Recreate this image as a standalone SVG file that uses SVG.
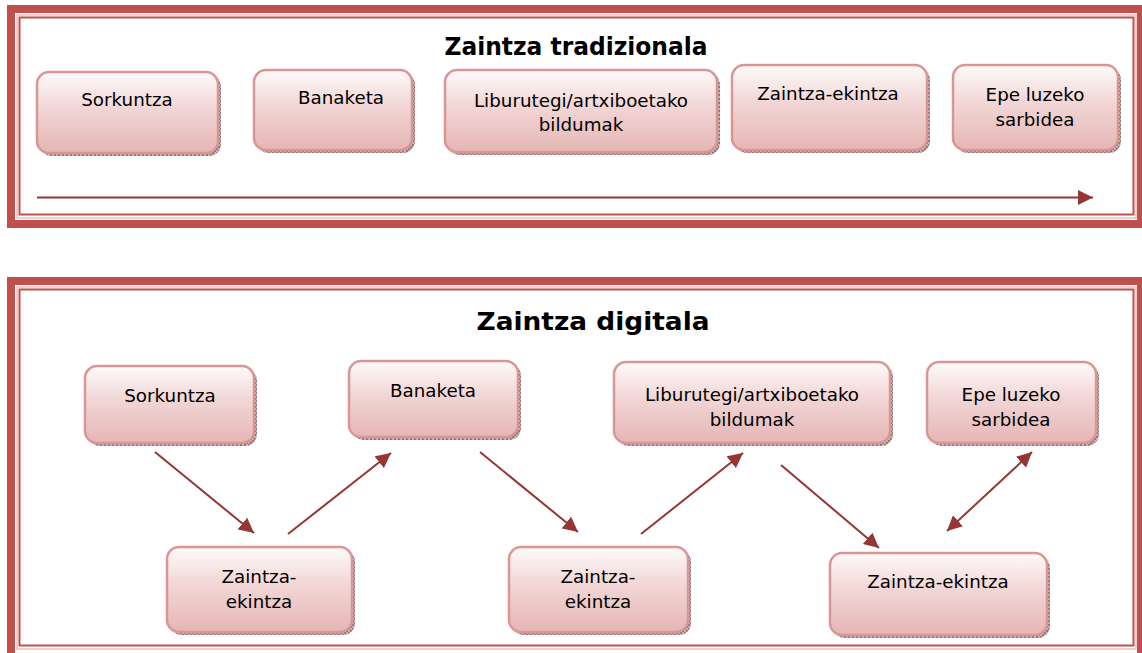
<svg xmlns="http://www.w3.org/2000/svg" width="1142" height="653" viewBox="0 0 1142 653">
<style>
.band{fill:none;stroke:#c0504d;stroke-width:8}
.thin{fill:none;stroke:#c0504d;stroke-width:2}
.lite{fill:none;stroke:#e3a09e;stroke-width:1}
.box{fill:url(#g);stroke:#d99694;stroke-width:2.5}
.sh{fill:url(#hatch)}
.t{font-family:"DejaVu Sans",Verdana,sans-serif;font-size:18.3px;fill:#000;text-anchor:middle}
.h{font-family:"DejaVu Sans",Verdana,sans-serif;font-size:24px;font-weight:bold;fill:#000;text-anchor:middle}
.c{stroke:#943634;stroke-width:2;fill:none}
</style>
<defs>
<linearGradient id="g" x1="0" y1="0" x2="0" y2="1">
<stop offset="0" stop-color="#fefafa"/>
<stop offset="0.45" stop-color="#f1d6d5"/>
<stop offset="1" stop-color="#e5b6b5"/>
</linearGradient>
<pattern id="hatch" width="4" height="4" patternUnits="userSpaceOnUse">
<rect width="4" height="4" fill="#c8b0b0"/>
<rect width="2" height="2" fill="#957777"/>
<rect x="2" y="2" width="2" height="2" fill="#957777"/>
</pattern>
<marker id="a" viewBox="0 0 10 10" refX="10" refY="5" markerWidth="7.5" markerHeight="7.5" markerUnits="strokeWidth" orient="auto-start-reverse">
<path d="M0,0 L10,5 L0,10 z" fill="#943634"/>
</marker>
</defs>
<rect width="1142" height="653" fill="#fff"/>
<g id="frame-top">
<rect class="band" x="11" y="9" width="1130" height="215"/>
<rect class="lite" x="17" y="15" width="1119" height="203"/>
<rect class="thin" x="19.5" y="17.5" width="1114" height="197"/>
<text class="h" x="576" y="55" textLength="263" lengthAdjust="spacingAndGlyphs">Zaintza tradizionala</text>
</g>
<g id="frame-bottom">
<rect class="band" x="11" y="281" width="1130" height="380"/>
<rect class="lite" x="17" y="287" width="1119" height="362"/>
<rect class="thin" x="19.5" y="289.5" width="1114" height="356"/>
<text class="h" x="593" y="330" textLength="233" lengthAdjust="spacingAndGlyphs">Zaintza digitala</text>
</g>
<g id="n1"><rect class="sh" x="40" y="75" width="181" height="81" rx="12"/><rect class="box" x="37" y="72" width="181" height="81" rx="12"/><text class="t" x="127" y="106">Sorkuntza</text></g>
<g id="n2"><rect class="sh" x="257" y="73" width="158" height="80" rx="12"/><rect class="box" x="254" y="70" width="158" height="80" rx="12"/><text class="t" x="341" y="104">Banaketa</text></g>
<g id="n3"><rect class="sh" x="448" y="73" width="272" height="82" rx="12"/><rect class="box" x="445" y="70" width="272" height="82" rx="12"/><text class="t" x="581" y="107">Liburutegi/artxiboetako</text><text class="t" x="581" y="131">bildumak</text></g>
<g id="n4"><rect class="sh" x="735" y="68" width="195" height="85" rx="12"/><rect class="box" x="732" y="65" width="195" height="85" rx="12"/><text class="t" x="828" y="100">Zaintza-ekintza</text></g>
<g id="n5"><rect class="sh" x="956" y="68" width="165" height="85" rx="12"/><rect class="box" x="953" y="65" width="165" height="85" rx="12"/><text class="t" x="1035" y="101">Epe luzeko</text><text class="t" x="1035" y="126">sarbidea</text></g>
<g id="m1"><rect class="sh" x="88" y="369" width="169" height="77" rx="12"/><rect class="box" x="85" y="366" width="169" height="77" rx="12"/><text class="t" x="170" y="402">Sorkuntza</text></g>
<g id="m2"><rect class="sh" x="352" y="364" width="169" height="76" rx="12"/><rect class="box" x="349" y="361" width="169" height="76" rx="12"/><text class="t" x="433" y="397">Banaketa</text></g>
<g id="m3"><rect class="sh" x="617" y="365" width="276" height="81" rx="12"/><rect class="box" x="614" y="362" width="276" height="81" rx="12"/><text class="t" x="752" y="401">Liburutegi/artxiboetako</text><text class="t" x="752" y="426">bildumak</text></g>
<g id="m4"><rect class="sh" x="930" y="365" width="169" height="81" rx="12"/><rect class="box" x="927" y="362" width="169" height="81" rx="12"/><text class="t" x="1011" y="401">Epe luzeko</text><text class="t" x="1011" y="426">sarbidea</text></g>
<g id="z1"><rect class="sh" x="170" y="550" width="185" height="85" rx="12"/><rect class="box" x="167" y="547" width="185" height="85" rx="12"/><text class="t" x="259" y="583">Zaintza-</text><text class="t" x="259" y="608">ekintza</text></g>
<g id="z2"><rect class="sh" x="512" y="550" width="179" height="85" rx="12"/><rect class="box" x="509" y="547" width="179" height="85" rx="12"/><text class="t" x="598" y="583">Zaintza-</text><text class="t" x="598" y="608">ekintza</text></g>
<g id="z3"><rect class="sh" x="833" y="556" width="217" height="82" rx="12"/><rect class="box" x="830" y="553" width="217" height="82" rx="12"/><text class="t" x="938" y="588">Zaintza-ekintza</text></g>
<g id="connectors">
<line class="c" x1="37" y1="197.5" x2="1093" y2="197.5" marker-end="url(#a)"/>
<line class="c" x1="155" y1="452" x2="254" y2="533" marker-end="url(#a)"/>
<line class="c" x1="288" y1="534" x2="391" y2="453" marker-end="url(#a)"/>
<line class="c" x1="480" y1="452" x2="578" y2="532" marker-end="url(#a)"/>
<line class="c" x1="641" y1="534" x2="743" y2="453" marker-end="url(#a)"/>
<line class="c" x1="781" y1="465" x2="879" y2="548" marker-end="url(#a)"/>
<line class="c" x1="947" y1="531" x2="1032" y2="452" marker-start="url(#a)" marker-end="url(#a)"/>
</g>
</svg>
